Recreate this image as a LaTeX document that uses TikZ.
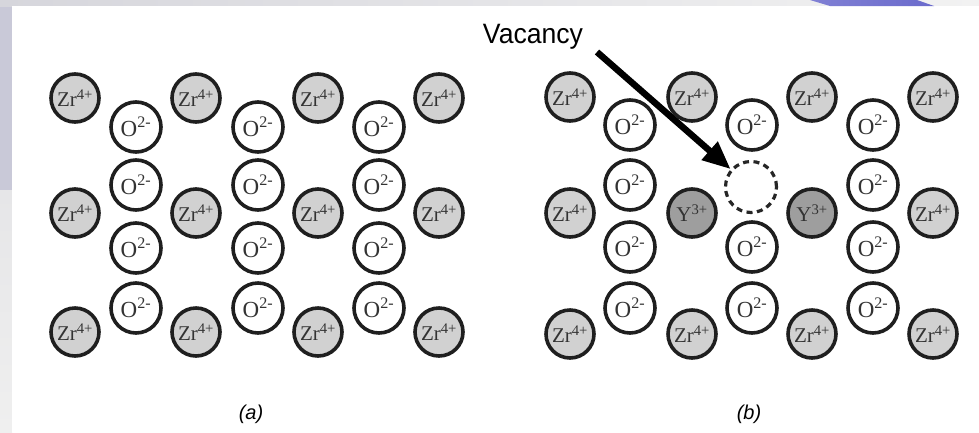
\documentclass[tikz,border=0pt]{standalone}
\usepackage{fontspec}
\setmainfont{Liberation Serif}
\newfontfamily\lsans{Liberation Sans}
\usetikzlibrary{arrows.meta}
\definecolor{stripA}{HTML}{C9C9D8}
\definecolor{stripB}{HTML}{E6E6E8}
\definecolor{stripC}{HTML}{EFEFEF}
\definecolor{topA}{HTML}{D6D6DC}
\definecolor{topB}{HTML}{F2F2F2}
\definecolor{swoosh}{HTML}{6B6BCC}
\definecolor{swooshL}{HTML}{8080D4}
\begin{document}
\begin{tikzpicture}[x=1pt,y=-1pt,
  ion/.style={circle, draw=black!88, line width=3.6pt, inner sep=0pt, text=black!80},
  zr/.style={ion, fill=black!18, minimum size=48pt, font=\fontsize{21}{21}\selectfont},
  yion/.style={ion, fill=black!38, minimum size=48pt, font=\fontsize{21}{21}\selectfont},
  ox/.style={ion, fill=white, minimum size=50pt, font=\fontsize{23}{23}\selectfont},
  vacancy/.style={circle, draw=black!85, line width=3.2pt, dash pattern=on 6pt off 4.5pt, minimum size=51pt, inner sep=0pt},
  lbl/.style={font=\lsans\itshape\fontsize{20}{20}\selectfont},
  pointer/.style={draw=black, line width=6.5pt, -{Triangle[length=28pt,width=23pt]}}
]
\useasboundingbox (0,0) rectangle (979,432);
% frame background
\shade[top color=stripA, bottom color=stripA] (0,0) rectangle (12,190);
\shade[top color=stripB, bottom color=stripC] (0,190) rectangle (12,432);
\shade[left color=topA, right color=topB] (0,0) rectangle (979,6);
\fill[white] (12,6) rectangle (979,432);
\shade[left color=swooshL, right color=swoosh] (810,0) -- (917,0) -- (934,6) -- (830,6) -- cycle;

% ---------- panel (a) ----------
\foreach \x [count=\i] in {75,196,318,439}{
  \foreach \y [count=\j] in {98,213,332}{
    \node[zr] (a-zr-\i-\j) at (\x,\y) {Zr\textsuperscript{4+}};
  }
}
\foreach \x [count=\i] in {136,258,379}{
  \foreach \y [count=\j] in {127,185,248,308}{
    \node[ox] (a-o-\i-\j) at (\x,\y) {O\textsuperscript{2-}};
  }
}

% ---------- panel (b) ----------
\foreach \x [count=\i] in {570,933}{
  \foreach \y [count=\j] in {97,213,334}{
    \node[zr] (b-zr-\i-\j) at (\x,\y) {Zr\textsuperscript{4+}};
  }
}
\foreach \x [count=\i] in {692,812}{
  \node[zr] (b-zrt-\i) at (\x,97) {Zr\textsuperscript{4+}};
  \node[zr] (b-zrb-\i) at (\x,334) {Zr\textsuperscript{4+}};
  \node[yion] (b-y-\i) at (\x,213) {Y\textsuperscript{3+}};
}
\foreach \x [count=\i] in {630,873}{
  \foreach \y [count=\j] in {125,185,247,308}{
    \node[ox] (b-o-\i-\j) at (\x,\y) {O\textsuperscript{2-}};
  }
}
\foreach \y [count=\j] in {125,247,308}{
  \node[ox] (b-oc-\j) at (752,\y) {O\textsuperscript{2-}};
}
\node[vacancy] (vc) at (751,187) {};

% ---------- vacancy label and arrow ----------
\node[font=\lsans\fontsize{28}{28}\selectfont, anchor=base, xscale=0.95] (vac) at (533,43) {Vacancy};
\coordinate (tail) at (597,52);
\draw[pointer] (tail) -- (vc);

% ---------- captions ----------
\node[lbl] (capa) at (251,414) {(a)};
\node[lbl] (capb) at (749,414) {(b)};
\end{tikzpicture}
\end{document}
